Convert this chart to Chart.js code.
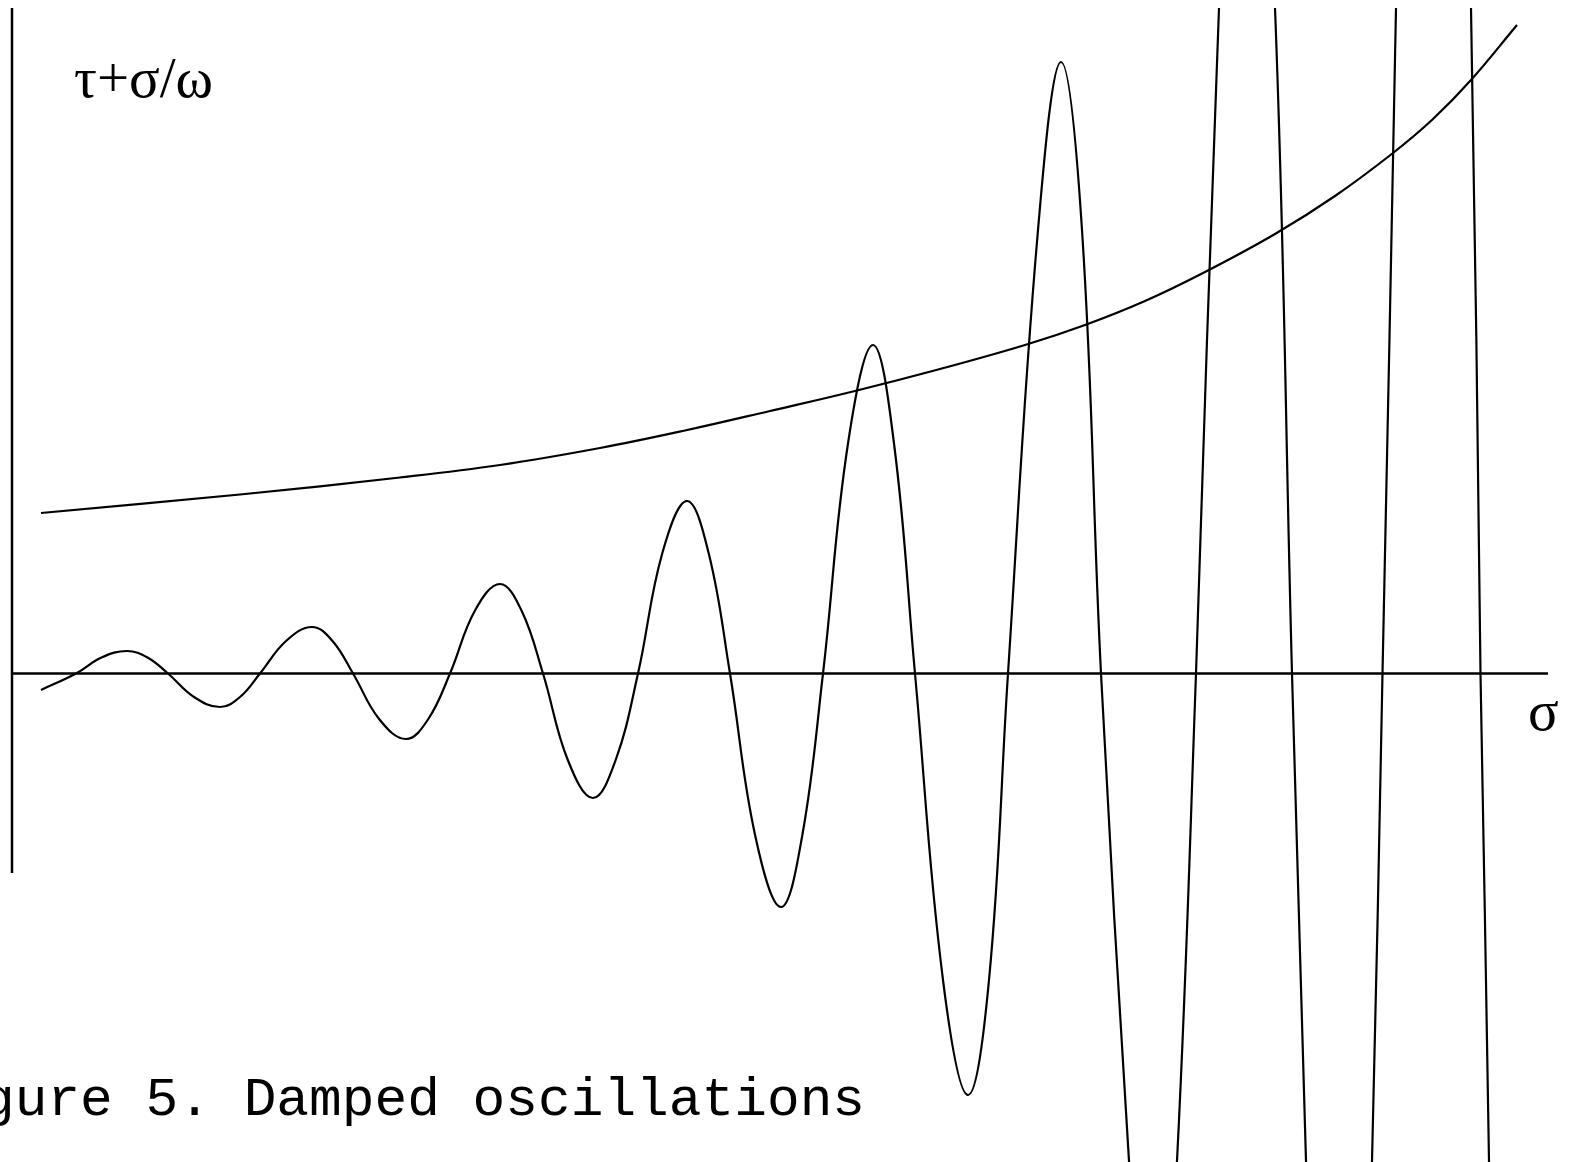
<!DOCTYPE html>
<html>
<head>
<meta charset="utf-8">
<script src="https://cdn.jsdelivr.net/npm/chart.js@4/dist/chart.umd.min.js"></script>
<style>
  html, body { margin: 0; padding: 0; background: #fff; overflow: hidden; }
  canvas { display: block; }
</style>
</head>
<body>
<canvas id="chart" width="1572" height="1162"></canvas>
<script>
// sigma axis, 1 unit = 100px of the original figure
const oscSigma = [0.29, 0.64, 0.895, 1.15, 1.355, 1.56, 1.82, 2.08, 2.28, 2.48, 2.74, 3.00, 3.205, 3.41,
    3.675, 3.94, 4.16, 4.38, 4.63, 4.88, 5.095, 5.31, 5.56, 5.81, 6.035, 6.26, 6.505, 6.75, 6.965, 7.18,
    7.435, 7.69, 7.90, 8.11, 8.36, 8.61, 8.82, 9.03, 9.31, 9.56, 9.77, 9.96, 10.26, 10.49, 10.70, 10.89,
    11.17, 11.41, 11.65, 11.84, 12.07, 12.34, 12.63, 12.80, 12.94, 13.26, 13.60, 13.705,
    13.84, 14.16, 14.59, 14.685, 14.77, 15.13];
const oscValues = [-0.165, 0, 0.16, 0.225, 0.16, 0, -0.235, -0.335, -0.235, 0, 0.325, 0.465, 0.325, 0,
    -0.46, -0.655, -0.46, 0, 0.63, 0.895, 0.63, 0, -0.87, -1.245, -0.87, 0, 1.21, 1.725, 1.21, 0,
    -1.635, -2.335, -1.635, 0, 2.30, 3.285, 2.30, 0, -3.065, -4.215, -3.065, 0, 4.435, 6.115, 4.435, 0,
    -4.875, -8.5, -4.875, 0, 6.655, 12.0, 6.655, 0, -4.875, -17.0, -4.875, 0,
    6.655, 24.0, 6.655, 0, -4.875, -33.0];

const curveSigma = [0.29, 2.28, 3.88, 4.88, 5.88, 6.73, 7.58, 8.43, 9.28, 10.13, 10.73, 11.33,
    11.93, 12.63, 13.23, 13.81, 14.21, 14.59, 15.05];
const curveValues = [1.605, 1.79, 1.96, 2.085, 2.255, 2.43, 2.625, 2.825, 3.045, 3.285, 3.485, 3.725,
    4.015, 4.395, 4.775, 5.205, 5.545, 5.935, 6.485];

const axisSigma = [0, 15.36];
const axisValue = [-1.995, 6.66];

const yLabel = 'τ+σ/ω';
const xLabel = 'σ';
const caption = 'gure 5. Damped oscillations';

const toPoints = (xs, ys) => xs.map((x, i) => ({x: x, y: ys[i]}));

const labelsPlugin = {
    id: 'labels',
    afterDraw(chart) {
        const ctx = chart.ctx;
        ctx.save();
        ctx.fillStyle = '#000';
        ctx.textBaseline = 'alphabetic';
        ctx.textAlign = 'left';
        ctx.font = '57px "Liberation Serif", serif';
        ctx.fillText(yLabel, 74, 97);
        ctx.fillText(xLabel, 1528, 730);
        ctx.font = '54.5px "Liberation Mono", monospace';
        ctx.fillText(caption, -18, 1115);
        ctx.restore();
    }
};

const ctx = document.getElementById('chart').getContext('2d');
const chart = new Chart(ctx, {
    type: 'scatter',
    data: {
        datasets: [{
            data: toPoints(axisSigma, [0, 0]),
            showLine: true, borderColor: '#000', borderWidth: 2.5, pointRadius: 0
        }, {
            data: toPoints([0, 0], axisValue),
            showLine: true, borderColor: '#000', borderWidth: 2.5, pointRadius: 0
        }, {
            data: toPoints(curveSigma, curveValues),
            showLine: true, borderColor: '#000', borderWidth: 2.2, pointRadius: 0,
            tension: 0.4
        }, {
            data: toPoints(oscSigma, oscValues),
            showLine: true, borderColor: '#000', borderWidth: 2.2, pointRadius: 0,
            tension: 0.4
        }]
    },
    options: {
        responsive: false,
        devicePixelRatio: 1,
        animation: false,
        layout: {padding: {top: 8, left: 0, right: 0, bottom: 0}},
        plugins: {legend: {display: false}, tooltip: {enabled: false}},
        scales: {
            x: {type: 'linear', display: false, min: -0.12, max: 15.6},
            y: {type: 'linear', display: false, min: -4.885, max: 6.655}
        }
    },
    plugins: [labelsPlugin]
});
</script>
</body>
</html>
